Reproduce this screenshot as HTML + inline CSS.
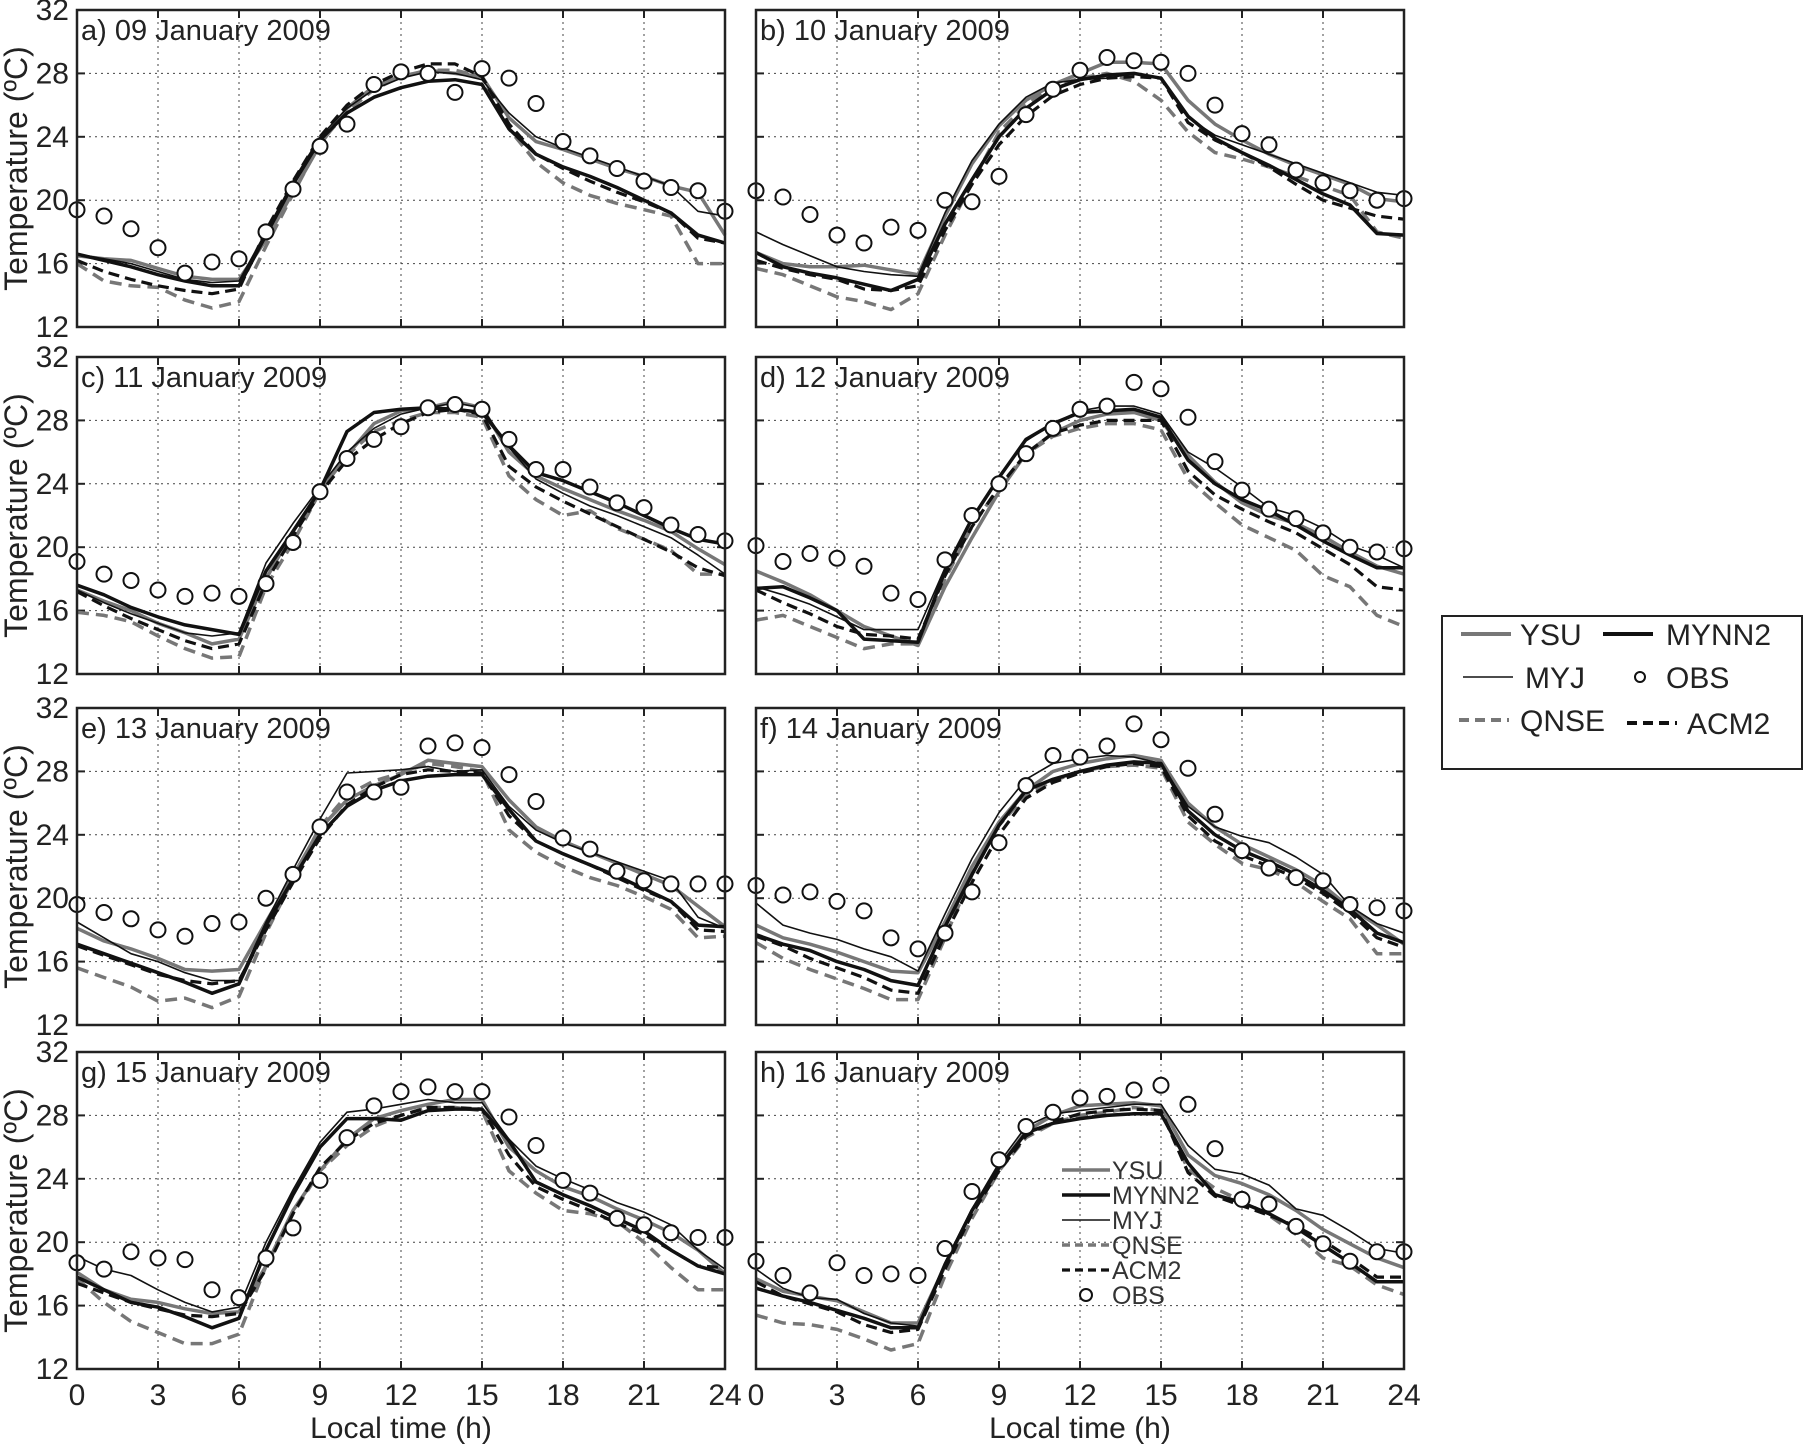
<!DOCTYPE html>
<html><head><meta charset="utf-8"><style>
html,body{margin:0;padding:0;background:#fff}
svg{display:block;font-family:"Liberation Sans",sans-serif}
</style></head><body>
<svg id="c" width="1804" height="1446" viewBox="0 0 1804 1446"></svg>
<script>
const hours=[0,1,2,3,4,5,6,7,8,9,10,11,12,13,14,15,16,17,18,19,20,21,22,23,24];
const panelTitles=["a) 09 January 2009","b) 10 January 2009","c) 11 January 2009","d) 12 January 2009","e) 13 January 2009","f) 14 January 2009","g) 15 January 2009","h) 16 January 2009"];
const xTicks=[0,3,6,9,12,15,18,21,24];
const yTicks=[12,16,20,24,28,32];
const seriesNames=["YSU","MYNN2","MYJ","QNSE","ACM2","OBS"];
const obs=[
[19.4,19.0,18.2,17.0,15.4,16.1,16.3,18.0,20.7,23.4,24.8,27.3,28.1,28.0,26.8,28.3,27.7,26.1,23.7,22.8,22.0,21.2,20.8,20.6,19.3],
[20.6,20.2,19.1,17.8,17.3,18.3,18.1,20.0,19.9,21.5,25.4,27.0,28.2,29.0,28.8,28.7,28.0,26.0,24.2,23.5,21.9,21.1,20.6,20.0,20.1],
[19.1,18.3,17.9,17.3,16.9,17.1,16.9,17.7,20.3,23.5,25.6,26.8,27.6,28.8,29.0,28.7,26.8,24.9,24.9,23.8,22.8,22.5,21.4,20.8,20.4],
[20.1,19.1,19.6,19.3,18.8,17.1,16.7,19.2,22.0,24.0,25.9,27.5,28.7,28.9,30.4,30.0,28.2,25.4,23.6,22.4,21.8,20.9,20.0,19.7,19.9],
[19.6,19.1,18.7,18.0,17.6,18.4,18.5,20.0,21.5,24.5,26.7,26.7,27.0,29.6,29.8,29.5,27.8,26.1,23.8,23.1,21.7,21.1,20.9,20.9,20.9],
[20.8,20.2,20.4,19.8,19.2,17.5,16.8,17.8,20.4,23.5,27.1,29.0,28.9,29.6,31.0,30.0,28.2,25.3,23.0,21.9,21.3,21.1,19.6,19.4,19.2],
[18.7,18.3,19.4,19.0,18.9,17.0,16.5,19.0,20.9,23.9,26.6,28.6,29.5,29.8,29.5,29.5,27.9,26.1,23.9,23.1,21.5,21.1,20.6,20.3,20.3],
[18.8,17.9,16.8,18.7,17.9,18.0,17.9,19.6,23.2,25.2,27.3,28.2,29.1,29.2,29.6,29.9,28.7,25.9,22.7,22.4,21.0,19.9,18.8,19.4,19.4]];
const ysu=[
[16.5,16.3,16.2,15.7,15.2,15.0,15.0,17.5,20.5,23.5,25.8,27.2,27.8,28.2,28.0,27.8,25.2,23.7,23.2,22.6,22.0,21.5,20.9,20.5,17.8],
[16.7,16.0,15.8,15.8,15.9,15.6,15.3,19.0,22.3,24.7,26.3,27.3,28.0,28.7,28.7,28.6,26.3,24.8,23.8,22.9,22.2,21.6,21.0,20.1,19.9],
[17.3,16.6,16.0,15.2,14.6,13.9,14.2,18.0,21.0,23.5,25.8,27.8,28.6,28.8,29.2,28.8,26.0,24.5,23.7,23.0,22.3,21.7,21.0,19.9,18.9],
[18.5,17.8,17.0,16.0,15.0,14.4,13.8,17.5,20.6,23.5,25.9,27.2,28.0,28.4,28.5,28.0,25.8,24.1,22.8,22.0,21.5,20.7,19.7,18.8,18.3],
[18.1,17.3,16.8,16.2,15.5,15.4,15.5,18.5,21.4,24.4,26.2,27.1,27.8,28.7,28.5,28.3,26.2,24.5,23.6,22.9,22.2,21.5,20.8,19.5,18.2],
[18.3,17.5,17.1,16.6,16.0,15.4,15.3,18.5,22.0,24.8,26.8,28.0,28.5,28.8,29.0,28.7,26.0,24.5,23.4,22.6,21.8,20.8,19.4,18.3,17.1],
[18.1,17.0,16.4,16.2,15.8,15.5,15.6,18.5,22.0,24.5,26.5,27.8,28.3,28.7,29.0,29.0,26.0,24.5,23.5,22.9,22.1,21.4,20.6,19.5,18.0],
[17.7,16.9,16.6,16.3,15.6,14.9,14.9,18.5,22.0,24.7,27.0,28.0,28.6,28.7,28.8,28.6,25.5,24.2,23.7,23.0,22.0,20.8,19.9,19.0,18.4]];
const mynn2=[
[16.6,16.2,15.8,15.3,14.9,14.6,14.6,17.8,21.0,23.8,25.5,26.5,27.1,27.5,27.6,27.3,24.5,22.9,22.1,21.5,20.8,20.0,19.2,17.8,17.3],
[16.7,15.8,15.4,15.1,14.7,14.3,15.0,18.5,21.3,24.0,25.8,27.0,27.6,27.9,28.0,27.7,25.3,23.9,23.0,22.2,21.3,20.4,19.7,17.9,17.8],
[17.6,17.0,16.2,15.6,15.1,14.8,14.5,18.5,21.0,23.6,27.3,28.5,28.7,28.8,28.7,28.5,26.4,24.7,24.2,23.5,22.8,22.0,21.2,20.5,20.2],
[17.4,17.5,16.8,16.0,14.2,14.1,14.0,18.5,21.8,24.4,26.8,27.8,28.5,28.6,28.7,28.2,25.5,24.0,23.0,22.3,21.4,20.4,19.5,18.7,18.7],
[17.1,16.5,15.9,15.3,14.7,14.0,14.6,18.3,21.2,24.0,25.8,26.8,27.4,27.7,27.8,27.8,25.6,23.6,22.8,22.1,21.4,20.6,19.8,18.3,18.2],
[17.7,17.1,16.7,16.0,15.5,14.8,14.5,18.2,21.5,24.6,26.8,27.5,28.0,28.4,28.6,28.5,25.5,24.0,23.0,22.3,21.5,20.5,19.3,17.8,17.2],
[17.8,17.0,16.2,15.9,15.3,14.6,15.2,19.5,23.0,26.0,27.8,27.8,27.7,28.3,28.4,28.4,26.4,23.8,23.0,22.3,21.5,20.7,19.5,18.5,18.0],
[17.1,16.6,16.2,15.7,15.2,14.6,14.6,18.6,22.0,24.7,26.9,27.5,27.8,28.0,28.1,28.1,25.0,23.0,22.5,21.8,20.9,19.8,18.7,17.5,17.5]];
const myj=[
[16.6,16.3,16.0,15.5,15.0,14.8,14.9,18.0,21.2,24.0,25.8,27.0,27.7,28.1,28.0,27.6,25.5,24.0,23.3,22.7,22.1,21.5,20.9,19.3,19.0],
[18.0,17.2,16.5,15.8,15.5,15.3,15.2,19.2,22.5,24.8,26.5,27.4,27.6,27.7,28.0,27.7,25.2,24.1,23.5,22.9,22.3,21.7,21.1,20.5,20.3],
[17.3,16.5,15.8,15.2,14.6,14.4,14.6,19.0,21.5,23.8,26.0,27.5,28.4,28.8,29.1,28.8,26.3,24.3,23.4,22.6,22.0,21.3,20.6,19.5,18.3],
[17.5,17.0,16.4,15.6,14.8,14.8,14.8,18.7,21.8,24.5,26.7,27.8,28.6,28.9,28.9,28.4,26.0,25.0,23.8,22.5,22.0,21.2,20.1,19.5,18.7],
[18.5,17.5,16.5,16.0,15.3,14.8,14.8,18.5,21.8,25.0,27.9,28.0,28.1,28.3,28.0,28.1,25.8,24.3,23.5,22.9,22.3,21.7,21.1,18.8,18.1],
[19.7,18.3,17.8,17.4,16.8,16.3,15.4,19.0,22.5,25.4,27.5,28.5,28.8,29.0,28.9,28.5,25.8,24.5,23.9,23.5,22.6,21.5,19.5,18.4,17.8],
[19.1,18.3,17.9,17.0,16.2,15.6,15.9,20.0,23.3,26.3,28.2,28.4,28.7,29.0,28.8,28.8,26.5,24.8,24.0,23.3,22.5,21.9,21.1,19.5,18.3],
[18.3,17.1,16.5,16.4,15.5,14.9,14.7,18.7,22.1,25.0,27.3,28.1,28.3,28.5,28.7,28.7,26.1,24.6,24.3,23.6,22.1,21.7,20.7,19.6,19.3]];
const qnse=[
[16.0,14.9,14.6,14.5,13.7,13.2,13.6,17.1,20.4,23.6,25.6,27.0,27.8,28.2,28.2,27.8,24.5,22.4,21.1,20.3,19.8,19.4,19.0,16.0,16.0],
[15.7,15.3,14.6,13.9,13.6,13.1,14.1,17.8,21.1,24.3,26.0,27.2,27.7,28.0,27.5,26.3,24.3,23.0,22.6,22.1,21.5,20.9,20.3,18.0,17.6],
[15.9,15.7,15.3,14.4,13.6,13.0,13.1,17.5,20.3,23.5,25.8,27.3,28.0,28.5,28.5,28.2,24.5,23.0,22.0,22.3,21.2,20.5,19.8,18.3,18.3],
[15.4,15.7,15.0,14.3,13.6,13.9,13.9,18.0,21.3,23.8,25.9,27.0,27.5,27.8,27.8,27.4,24.3,22.8,21.4,20.6,19.8,18.2,17.5,15.7,15.0],
[15.6,15.0,14.4,13.5,13.7,13.1,13.8,17.8,21.2,24.5,26.5,27.4,27.9,28.5,28.3,28.0,24.3,22.9,22.0,21.3,20.8,20.1,19.3,17.5,17.6],
[17.2,16.2,15.5,14.9,14.3,13.6,13.6,17.5,21.5,24.6,26.5,27.4,28.0,28.3,28.4,28.2,24.8,23.4,22.2,21.8,21.0,19.8,18.7,16.5,16.5],
[17.7,16.2,15.0,14.3,13.6,13.6,14.2,18.5,21.8,24.5,26.1,27.3,28.0,28.5,28.5,28.3,24.5,23.1,22.0,21.8,21.3,20.0,18.4,17.0,17.0],
[15.4,14.9,14.8,14.5,13.9,13.2,13.6,17.9,21.5,24.5,26.6,27.5,28.0,28.2,28.5,28.3,24.6,23.4,22.6,21.7,20.5,19.0,18.5,17.3,16.7]];
const acm2=[
[16.2,15.5,15.0,14.6,14.3,14.1,14.4,18.1,21.2,24.0,26.0,27.3,28.1,28.6,28.6,27.8,24.8,22.9,22.0,21.2,20.5,19.9,19.2,17.6,17.3],
[16.2,15.7,15.3,15.0,14.4,14.3,14.6,18.1,21.0,23.5,25.3,26.6,27.3,27.7,27.8,27.7,24.9,23.8,23.0,22.1,21.0,20.0,19.5,19.0,18.8],
[17.2,16.3,15.5,14.8,14.1,13.6,13.9,17.8,20.7,23.4,25.5,26.8,27.8,28.5,28.7,28.4,25.1,23.8,22.9,22.1,21.3,20.5,19.7,18.7,18.2],
[17.3,16.5,15.8,15.0,14.5,14.4,14.2,18.2,21.3,23.8,25.9,27.2,27.7,28.0,28.0,28.0,24.8,23.3,22.4,21.6,20.9,19.9,18.9,17.5,17.3],
[17.0,16.4,15.8,15.2,14.8,14.6,14.8,18.0,21.0,23.8,25.9,27.0,27.8,28.1,28.0,27.9,25.2,23.6,22.8,22.1,21.3,20.5,19.8,18.0,17.9],
[17.6,17.0,16.2,15.6,15.0,14.2,14.0,17.7,21.0,24.0,26.3,27.3,27.9,28.3,28.5,28.3,25.2,23.6,22.7,22.0,21.3,20.3,19.1,17.5,16.9],
[17.4,16.8,16.2,15.8,15.4,15.3,15.5,18.3,21.8,24.7,26.4,27.5,28.0,28.5,28.5,28.4,25.5,23.5,22.7,22.0,21.2,20.5,19.5,18.5,18.4],
[17.5,16.6,16.1,15.6,14.8,14.3,14.5,18.3,21.8,24.5,26.7,27.6,28.1,28.3,28.4,28.3,24.4,22.9,22.3,21.7,21.0,20.1,19.0,17.8,17.8]];

const NS="http://www.w3.org/2000/svg";
const svg=document.getElementById('c');
function mk(tag,attrs,parent){const e=document.createElementNS(NS,tag);for(const k in attrs)e.setAttribute(k,attrs[k]);(parent||svg).appendChild(e);return e;}
const lefts=[77,756], W=648, H=317, tops=[10,357,708,1052];
const styles=[
 {data:ysu,stroke:"#777",w:3.5,dash:null,name:"ysu-line"},
 {data:qnse,stroke:"#777",w:3.5,dash:"12,7",name:"qnse-line"},
 {data:myj,stroke:"#111",w:1.6,dash:null,name:"myj-line"},
 {data:acm2,stroke:"#111",w:3.2,dash:"11,6",name:"acm2-line"},
 {data:mynn2,stroke:"#111",w:3.5,dash:null,name:"mynn2-line"}];
for(let p=0;p<8;p++){
  const col=p%2,row=Math.floor(p/2);
  const L=lefts[col],T=tops[row];
  const xs=h=>L+h/24*W, ys=v=>T+H-(v-12)/20*H;
  const g=mk('g',{});
  
  
  xTicks.forEach(t=>{ if(t>0&&t<24){const l=mk('line',{x1:xs(t),x2:xs(t),y1:T,y2:T+H,stroke:"#444","stroke-width":1,"stroke-dasharray":"2,4"},g);}});
  yTicks.forEach(t=>{ if(t>12&&t<32){const l=mk('line',{x1:L,x2:L+W,y1:ys(t),y2:ys(t),stroke:"#444","stroke-width":1,"stroke-dasharray":"2,4"},g);}});
  xTicks.forEach(t=>{mk('line',{x1:xs(t),x2:xs(t),y1:T+H,y2:T+H-8,stroke:"#222","stroke-width":2},g);mk('line',{x1:xs(t),x2:xs(t),y1:T,y2:T+8,stroke:"#222","stroke-width":2},g);});
  yTicks.forEach(t=>{mk('line',{x1:L,x2:L+8,y1:ys(t),y2:ys(t),stroke:"#222","stroke-width":2},g);mk('line',{x1:L+W,x2:L+W-8,y1:ys(t),y2:ys(t),stroke:"#222","stroke-width":2},g);});
  if(col===0){yTicks.forEach(t=>{const tx=mk('text',{x:L-8,y:ys(t)+10,"text-anchor":"end","font-size":30,fill:"#222"},g);tx.textContent=t;});
    const yt=mk('text',{transform:`translate(27,${T+H/2}) rotate(-90)`,"text-anchor":"middle","font-size":32,fill:"#222"},g);yt.textContent="Temperature (ºC)";}
  if(row===3){xTicks.forEach(t=>{const tx=mk('text',{x:xs(t),y:T+H+36,"text-anchor":"middle","font-size":30,fill:"#222"},g);tx.textContent=t;});
    const xt=mk('text',{x:L+W/2,y:1438,"text-anchor":"middle","font-size":30,fill:"#222"},g);xt.textContent="Local time (h)";}
  styles.forEach(s=>{const d=s.data[p].map((v,i)=>(i?'L':'M')+xs(hours[i]).toFixed(1)+','+ys(v).toFixed(1)).join('');
    const a={d:d,fill:"none",stroke:s.stroke,"stroke-width":s.w,"stroke-linejoin":"round"};if(s.dash)a["stroke-dasharray"]=s.dash;
    const pa=mk('path',a,g);});
  obs[p].forEach((v,i)=>{const c=mk('circle',{cx:xs(hours[i]),cy:ys(v),r:7.5,fill:"#fff",stroke:"#111","stroke-width":2},g);});
  const fr=mk('rect',{x:L,y:T,width:W,height:H,fill:"none",stroke:"#222","stroke-width":2.5},g);
  const ti=mk('text',{x:L+4,y:T+30,"font-size":29,fill:"#222"},g);ti.textContent=panelTitles[p];
}
const lg=mk('g',{});


mk('rect',{x:1442,y:616,width:360,height:153,fill:"#fff",stroke:"#222","stroke-width":2},lg);
const legItems=[
 {n:"YSU",x:1461,y:634,stroke:"#777",w:4,dash:null,tx:1520},
 {n:"MYNN2",x:1603,y:634,stroke:"#111",w:4,dash:null,tx:1666},
 {n:"MYJ",x:1463,y:677,stroke:"#111",w:1.6,dash:null,tx:1525},
 {n:"OBS",x:null,y:677,tx:1666},
 {n:"QNSE",x:1459,y:720,stroke:"#777",w:4,dash:"10,6",tx:1520},
 {n:"ACM2",x:1627,y:723,stroke:"#111",w:4,dash:"10,6",tx:1687}];
legItems.forEach(it=>{
  if(it.x!==null){const a={x1:it.x,x2:it.x+50,y1:it.y,y2:it.y,stroke:it.stroke,"stroke-width":it.w};if(it.dash)a["stroke-dasharray"]=it.dash;mk('line',a,lg);}
  else mk('circle',{cx:1640,cy:it.y,r:5,fill:"#fff",stroke:"#111","stroke-width":2},lg);
  const t=mk('text',{x:it.tx,y:it.y+11,"font-size":30,fill:"#222"},lg);t.textContent=it.n;
  
});
const il=mk('g',{});


const inset=[["YSU","#777",3.5,null],["MYNN2","#111",3.5,null],["MYJ","#111",1.6,null],["QNSE","#777",3.5,"8,5"],["ACM2","#111",3.2,"8,5"],["OBS",null,0,null]];
inset.forEach((it,i)=>{const y=1170+i*25;
  if(it[1]){const a={x1:1062,x2:1110,y1:y,y2:y,stroke:it[1],"stroke-width":it[2]};if(it[3])a["stroke-dasharray"]=it[3];mk('line',a,il);}
  else mk('circle',{cx:1086,cy:y,r:6,fill:"#fff",stroke:"#111","stroke-width":2},il);
  const t=mk('text',{x:1112,y:y+9,"font-size":25,fill:"#333"},il);t.textContent=it[0];
  });
</script>
</body></html>
